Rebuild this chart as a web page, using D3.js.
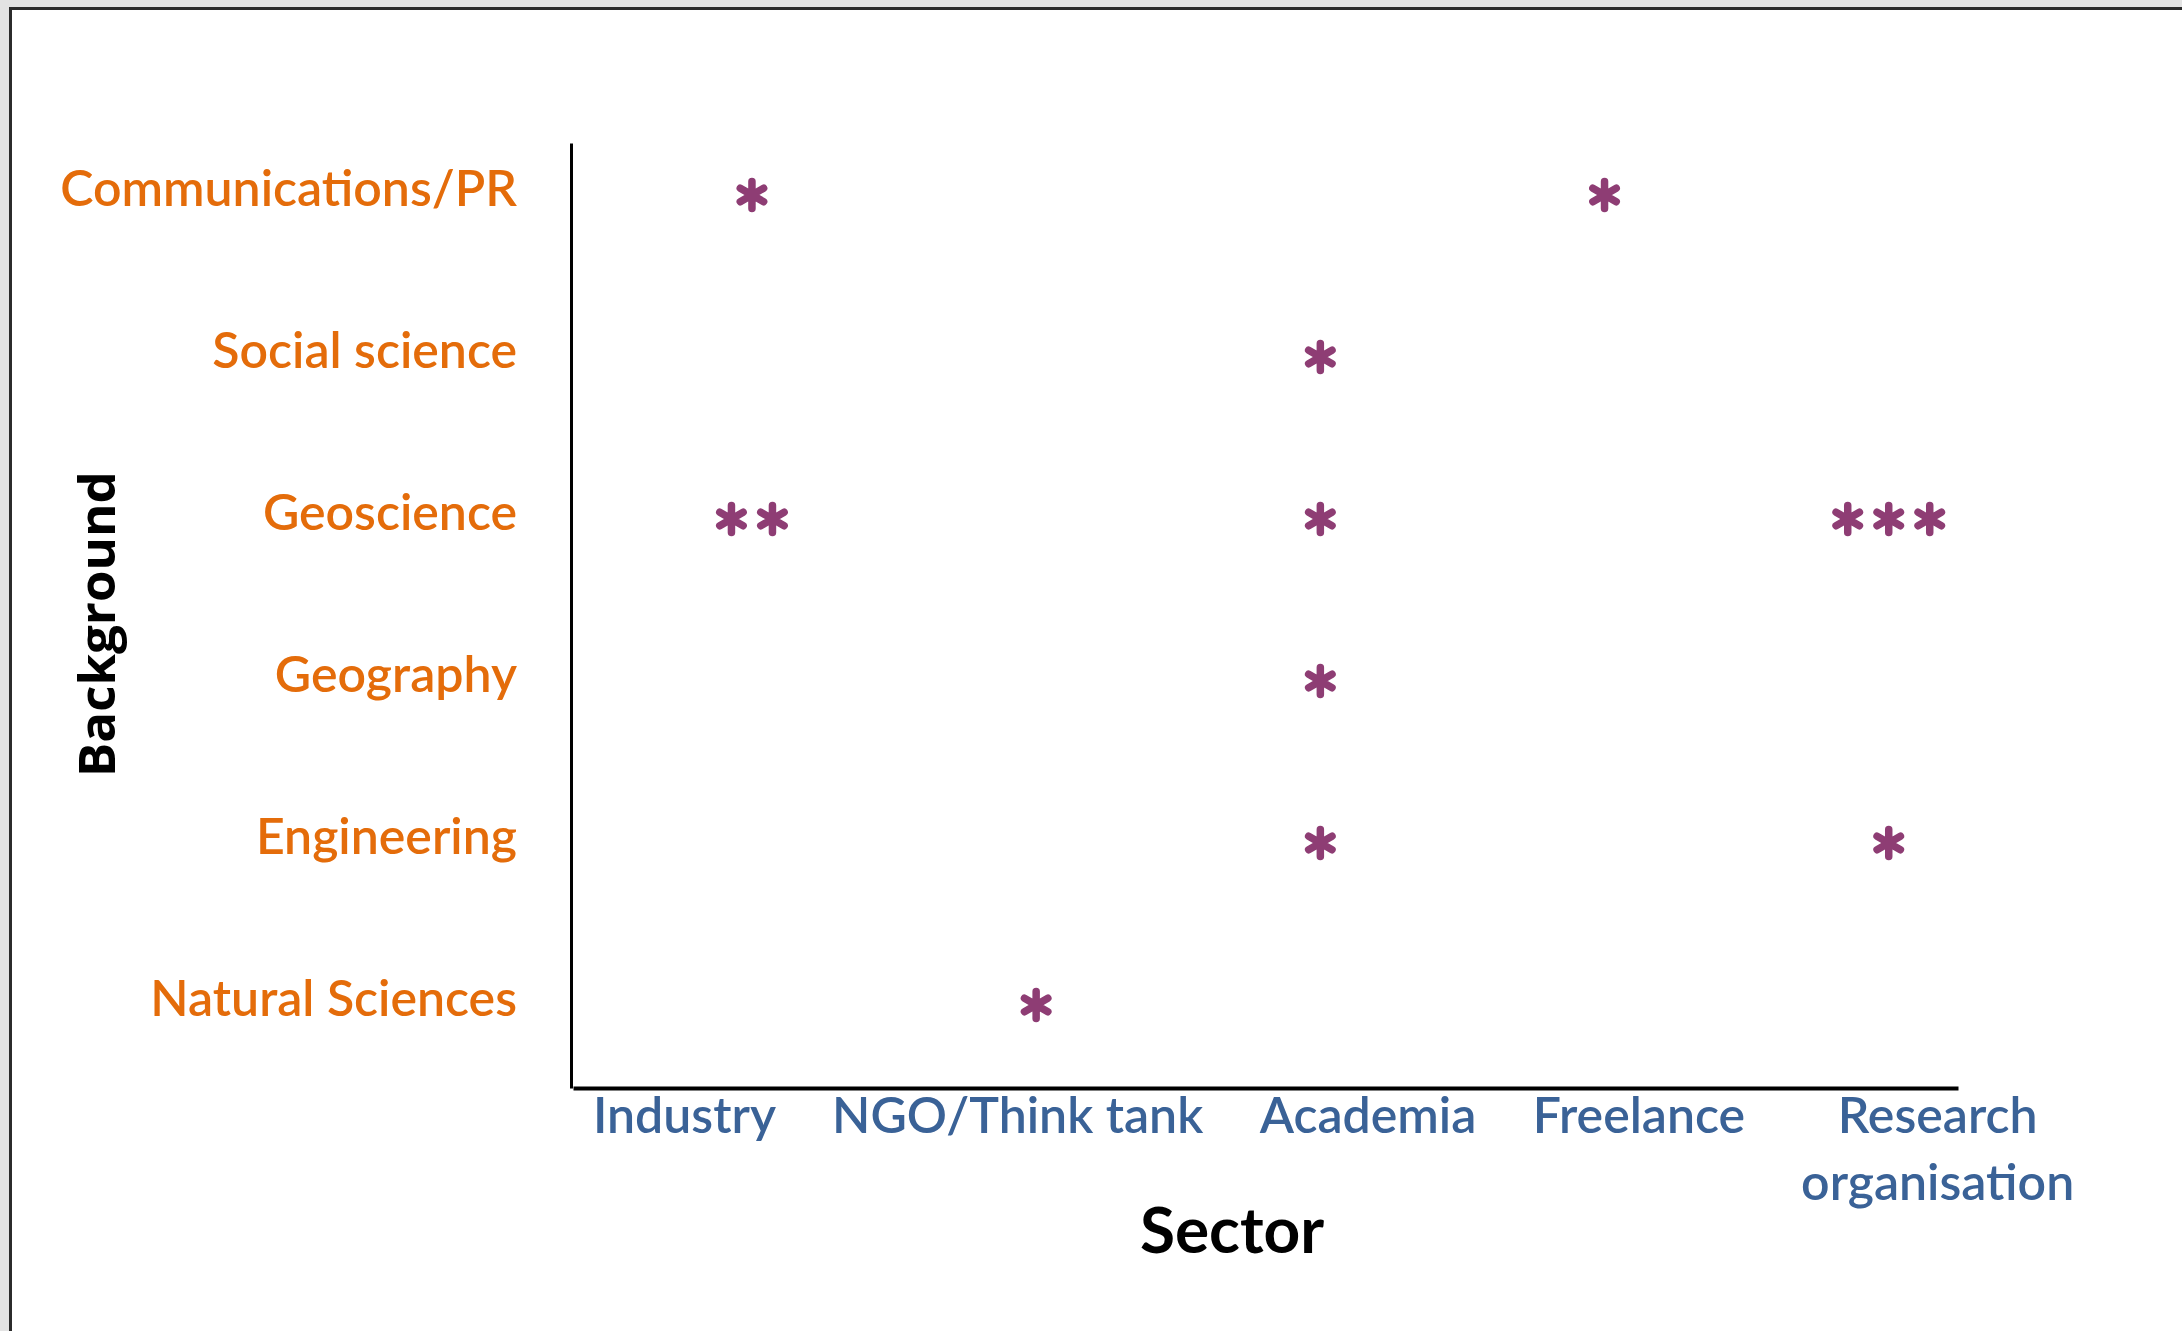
<!DOCTYPE html>
<html>
<head>
<meta charset="utf-8">
<script src="https://cdn.jsdelivr.net/npm/d3@7"></script>
<style>
  body { margin: 0; background: #e3e3e3; }
  svg { display: block; }
</style>
</head>
<body>
<main></main>
<script>
      var backgrounds = ["Communications/PR", "Social science", "Geoscience", "Geography", "Engineering", "Natural Sciences"];
      var sectors = ["Industry", "NGO/Think tank", "Academia", "Freelance", "Research organisation"];
      // one entry per asterisk group: background, sector, number of people
      var pointBackground = ["Communications/PR", "Communications/PR", "Social science", "Geoscience", "Geoscience", "Geoscience", "Geography", "Engineering", "Engineering", "Natural Sciences"];
      var pointSector = ["Industry", "Freelance", "Academia", "Industry", "Academia", "Research organisation", "Academia", "Academia", "Research organisation", "NGO/Think tank"];
      var pointCount = [1, 1, 1, 2, 1, 3, 1, 1, 1, 1];

      var W = 2182, H = 1331;
      var margin = {top: 143, left: 571, right: 226, bottom: 243};
      var w = W - margin.left - margin.right;
      var h = H - margin.top - margin.bottom;

      var svg = d3.select("main")
                  .append("svg")
                  .attr("width", W)
                  .attr("height", H);

      // slide frame
      svg.append("rect")
         .attr("x", 0).attr("y", 0)
         .attr("width", W).attr("height", H)
         .attr("fill", "#e3e3e3");
      svg.append("rect")
         .attr("x", 9).attr("y", 7)
         .attr("width", W).attr("height", H)
         .attr("fill", "#2b2b2b");
      svg.append("rect")
         .attr("x", 12).attr("y", 10)
         .attr("width", W).attr("height", H)
         .attr("fill", "#fff");

      var x = d3.scalePoint()
                .domain(sectors)
                .range([0, w])
                .padding(0.4367)
                .align(0.729);
      var y = d3.scalePoint()
                .domain(backgrounds)
                .range([0, h])
                .padding(0.4167)
                .align(0.333);

      var g = svg.append("g")
                 .attr("transform", "translate(" + margin.left + "," + margin.top + ")");

      var yAxis = g.append("g")
                   .call(d3.axisLeft(y).tickSize(0).tickPadding(54));
      yAxis.select(".domain").attr("stroke", "#000").attr("stroke-width", 3);
      yAxis.selectAll("text")
           .attr("fill", "#e46c0a")
           .attr("font-family", "Lato")
           .attr("font-weight", 600)
           .attr("font-size", 50)
           .attr("dy", "0.36em");

      var xAxis = g.append("g")
                   .attr("transform", "translate(2," + h + ")")
                   .call(d3.axisBottom(x).tickSize(0).tickPadding(0));
      xAxis.select(".domain").attr("stroke", "#000").attr("stroke-width", 4);
      xAxis.selectAll("text")
           .attr("fill", "#3a6297")
           .attr("font-family", "Lato")
           .attr("font-weight", 600)
           .attr("font-size", 50)
           .attr("dy", null)
           .attr("y", 45)
           .each(function(d) {
             var words = d === "Research organisation" ? d.split(" ") : [d];
             var t = d3.select(this).text(null);
             words.forEach(function(wd, i) {
               t.append("tspan")
                .attr("x", 0)
                .attr("dy", i ? 67 : 0)
                .text(wd);
             });
           });
      // the sector labels sit as a row of text boxes with an even gap between them
      var cursor = 20, gap = 56;
      xAxis.selectAll(".tick").each(function() {
        var bw = this.getBBox().width;
        d3.select(this).attr("transform", "translate(" + (cursor + bw / 2) + ",0)");
        cursor += bw + gap;
      });

      // asterisks
      var star = d3.symbol().type(d3.symbolAsterisk).size(515);
      var pts = [];
      pointCount.forEach(function(n, k) {
        for (var i = 0; i < n; i++) {
          pts.push({b: pointBackground[k], s: pointSector[k], off: (i - (n - 1) / 2) * 41});
        }
      });
      g.selectAll("path.star")
       .data(pts)
       .enter()
       .append("path")
       .attr("class", "star")
       .attr("d", star)
       .attr("transform", function(d) {
         return "translate(" + (x(d.s) + d.off) + "," + (y(d.b) + 7) + ")";
       })
       .attr("fill", "none")
       .attr("stroke", "#8e3d74")
       .attr("stroke-width", 7.5)
       .attr("stroke-linecap", "round");

      // axis titles
      svg.append("text")
         .attr("transform", "translate(115,624) rotate(-90)")
         .attr("text-anchor", "middle")
         .attr("font-family", "Open Sans")
         .attr("font-weight", "bold")
         .attr("font-size", 51)
         .attr("fill", "#000")
         .text("Background");
      svg.append("text")
         .attr("x", 1232)
         .attr("y", 1253)
         .attr("text-anchor", "middle")
         .attr("font-family", "Lato")
         .attr("font-weight", "bold")
         .attr("font-size", 64)
         .attr("fill", "#000")
         .text("Sector");
</script>
</body>
</html>
